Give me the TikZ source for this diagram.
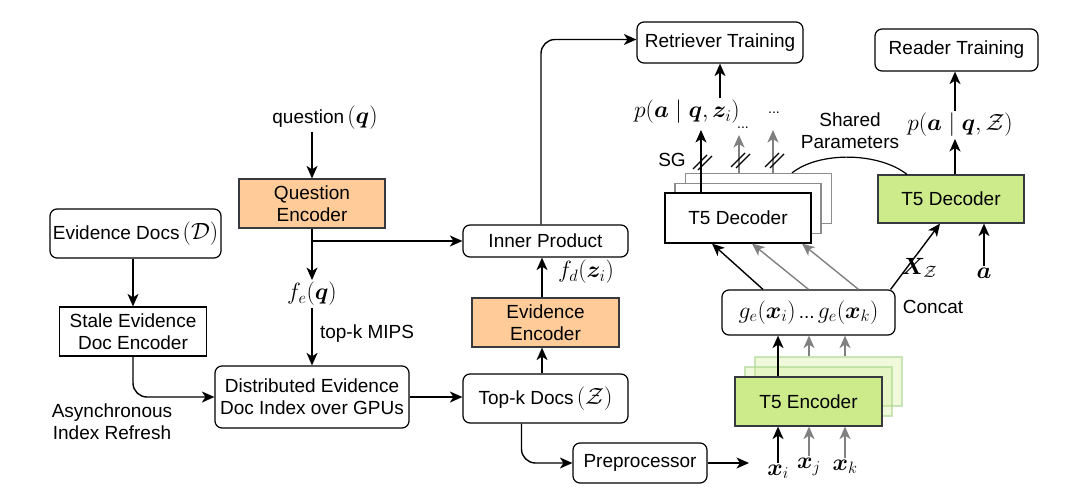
\RequirePackage{fix-cm}
\documentclass[tikz,border=0pt]{standalone}
\usepackage{amsmath,bm}
\usepackage{fontspec}
\setmainfont{Liberation Sans}
\usetikzlibrary{arrows.meta}
\definecolor{orng}{HTML}{FFCC99}
\definecolor{grn}{HTML}{CDEB8B}
\definecolor{bord}{HTML}{36393D}
\definecolor{garrow}{HTML}{808080}
\definecolor{encb}{HTML}{A9D68F}
\newcommand\fsz{\fontsize{19}{22}\selectfont}
\newcommand\msz{\fontsize{23.5}{26}\selectfont}
\newcommand\dsz{\fontsize{14}{16}\selectfont}
\begin{document}
\begin{tikzpicture}[x=1pt,y=-1pt,
  every node/.style={font=\fsz, inner sep=2pt},
  box/.style={draw=black, line width=1.2pt, fill=white, align=center, inner sep=0pt},
  rbox/.style={box, rounded corners=7pt},
  obox/.style={box, fill=orng, draw=bord},
  gbox/.style={box, fill=grn, draw=bord},
  dback/.style={box, draw=black!45, minimum width=146pt, minimum height=50pt},
  eback/.style={box, draw=encb, fill=grn, fill opacity=0.3, draw opacity=0.6, minimum width=147pt, minimum height=49pt},
  arr/.style={draw=black, line width=1.4pt, -{Stealth[length=12.5pt,width=11pt,inset=3.5pt]}},
  garr/.style={arr, draw=garrow},
  ml/.style={font=\msz, inner sep=2pt},
  sl/.style={draw=black, line width=1.2pt}
]
\useasboundingbox (0,0) rectangle (1080,501);

% left column
\node (qlab) at (325,118) {question\,{\msz$(\bm{q})$}};
\node[obox, minimum width=146pt, minimum height=49pt] (qenc) at (312,203.5) {Question\\Encoder};
\node[rbox, minimum width=171pt, minimum height=49pt] (edocs) at (135.5,233.5) {Evidence Docs\,{\msz$(\mathcal{D})$}};
\node[box, minimum width=147pt, minimum height=49pt] (stale) at (133,331.5) {Stale Evidence\\Doc Encoder};
\node[rbox, minimum width=194pt, minimum height=62pt] (dist) at (312,397) {Distributed Evidence\\Doc Index over GPUs};
\node[ml] (fe) at (312,294) {$f_e(\bm{q})$};
\node (mips) at (367,334) {top-k MIPS};
\node[align=center] (async) at (112,422) {Asynchronous\\Index Refresh};

% middle column
\node[rbox, minimum width=165pt, minimum height=49pt] (topk) at (545.5,398.5) {Top-k Docs\,{\msz$(\mathcal{Z})$}};
\node[obox, minimum width=147pt, minimum height=49pt] (evenc) at (545.5,322.5) {Evidence\\Encoder};
\node[rbox, minimum width=165pt, minimum height=32pt] (inner) at (545.5,241) {Inner Product};
\node[ml] (fd) at (586,272) {$f_d(\bm{z}_i)$};
\node[rbox, minimum width=134pt, minimum height=40pt] (pre) at (640,463) {Preprocessor};
\coordinate (preend) at (749,463);

% retriever side
\node[rbox, minimum width=166pt, minimum height=41pt] (rt) at (720,42.5) {Retriever Training};
\node[ml] (plab) at (687,112) {$p(\bm{a}\mid\bm{q},\bm{z}_i)$};
\node[dback] (dec3) at (758.5,198.5) {};
\node[dback] (dec2) at (748,208.5) {};
\coordinate (sgtip) at (701,130);
\coordinate (g1tip) at (739,135);
\coordinate (g2tip) at (773,130);
\draw[garr] ([xshift=-19.5]dec3.north) -- (g1tip);
\draw[garr] ([xshift=14.5]dec3.north) -- (g2tip);
\node[box, minimum width=146pt, minimum height=50pt] (dec) at (738,218) {T5 Decoder};
\draw[arr] ([xshift=-37]dec.north) -- (sgtip);
\node[font=\dsz, inner sep=0pt] (dots1) at (743,128) {...};
\node[font=\dsz, inner sep=0pt] (dots2) at (774,113) {...};
\node (sg) at (672,160) {SG};
\foreach \x/\y in {701/162, 739/160, 773/160} {
  \draw[sl] (\x-8,\y+7) -- (\x+6,\y-7);
  \draw[sl] (\x-3,\y+8) -- (\x+11,\y-6);
}
\node[align=center] (shared) at (850,131) {Shared\\Parameters};

% reader side
\node[rbox, minimum width=163pt, minimum height=42pt] (reader) at (956.5,50) {Reader Training};
\node[gbox, minimum width=146pt, minimum height=48pt] (gdec) at (951,199) {T5 Decoder};
\node[ml] (pz) at (960,125) {$p(\bm{a}\mid\bm{q},\mathcal{Z})$};
\node[ml] (alab) at (984,273) {$\bm{a}$};
\node[ml] (xz) at (919,268) {$\bm{X}_{\mathcal{Z}}$};
\draw[line width=1.2pt] ([xshift=33.5]dec3.north) .. controls +(28,-22) and +(-28,-22) .. ([xshift=-44]gdec.north);

% encoder stack
\node[rbox, minimum width=173pt, minimum height=45pt] (ge) at (808.5,312.5) {{\msz$g_e(\bm{x}_i)$}\,...\,{\msz$g_e(\bm{x}_k)$}};
\node (concat) at (933,307) {Concat};
\node[eback] (enc3) at (828.5,381.5) {};
\node[eback] (enc2) at (818.5,391.5) {};
\draw[garr] ([xshift=-19.5]enc3.north) -- ([xshift=0.5]ge.south);
\draw[garr] ([xshift=16.5]enc3.north) -- ([xshift=36.5]ge.south);
\node[gbox, minimum width=147pt, minimum height=49pt] (enc) at (808.5,401.5) {T5 Encoder};
\draw[arr] ([xshift=-30.5]enc.north) -- ([xshift=-30.5]ge.south);
\node[ml] (xi) at (778,472) {$\bm{x}_i$};
\node[ml] (xj) at (809,467) {$\bm{x}_j$};
\node[ml] (xk) at (845,467) {$\bm{x}_k$};
\draw[arr] (xi.north) -- (xi.north |- enc.south);
\draw[garr] (xj.north) -- (xj.north |- enc.south);
\draw[garr] (xk.north) -- (xk.north |- enc.south);

% connectors
\draw[arr] (qlab.south -| qenc.north) -- (qenc.north);
\draw[arr] (qenc.south) -- (fe.north);
\draw[arr] (qenc.south |- inner.west) -- (inner.west);
\draw[arr] (fe.south) -- (dist.north);
\draw[arr] (edocs.south -| stale.north) -- (stale.north);
\draw[arr, rounded corners=14pt] (stale.south) |- (dist.west);
\draw[arr] (dist.east) -- (dist.east -| topk.west);
\draw[arr] ([xshift=-3.5]topk.north) -- ([xshift=-3.5]evenc.south);
\draw[arr] ([xshift=-3.5]evenc.north) -- ([xshift=-3.5]inner.south);
\draw[arr, rounded corners=14pt] ([xshift=-4.5]inner.north) |- ([yshift=3]rt.west);
\draw[arr, rounded corners=14pt] ([xshift=-24]topk.south) |- (pre.west);
\draw[arr] (pre.east) -- (preend);
\draw[arr] (plab.north -| rt.south) -- (rt.south);
\draw[arr] ([xshift=4]gdec.north) -- ([xshift=4]gdec.north |- pz.south);
\draw[arr] ([xshift=-1.5]pz.north -| reader.south) -- ([xshift=-1.5]reader.south);
\draw[arr] (alab.north) -- (alab.north |- gdec.south);
\draw[arr] ([xshift=-5]ge.north east) -- ([xshift=-11]gdec.south);
\draw[arr] ([xshift=-45.5]ge.north) -- ([xshift=-26]dec.south);
\draw[garr] ([xshift=0]ge.north) -- ([xshift=14]dec.south);
\draw[garr] ([xshift=50]ge.north) -- ([xshift=64]dec.south);
\end{tikzpicture}
\end{document}
